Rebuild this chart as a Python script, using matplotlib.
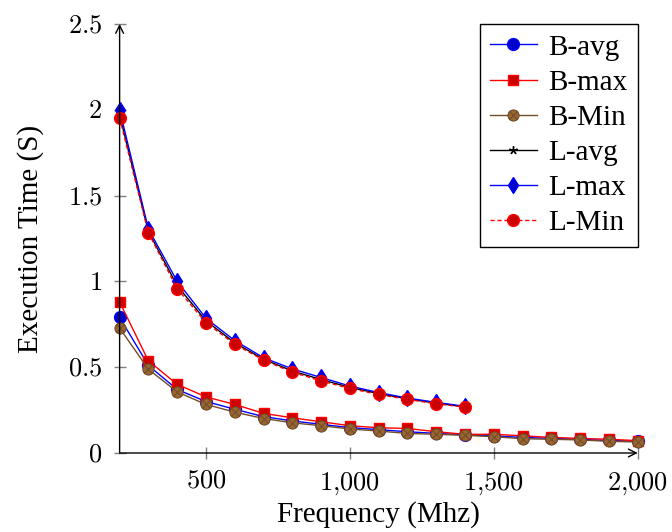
import matplotlib
matplotlib.use('Agg')
import matplotlib.pyplot as plt
from matplotlib.path import Path
from matplotlib.ticker import FixedLocator, FixedFormatter

plt.rcParams['font.family'] = 'Liberation Serif'
plt.rcParams['mathtext.fontset'] = 'cm'

# frequencies (Mhz)
freq_b = [200, 300, 400, 500, 600, 700, 800, 900, 1000, 1100,
          1200, 1300, 1400, 1500, 1600, 1700, 1800, 1900, 2000]
freq_l = [200, 300, 400, 500, 600, 700, 800, 900, 1000, 1100,
          1200, 1300, 1400]

# execution times (S)
b_avg = [0.79, 0.51, 0.37, 0.30, 0.255, 0.212, 0.187, 0.167, 0.148, 0.136,
         0.124, 0.114, 0.106, 0.099, 0.091, 0.085, 0.079, 0.073, 0.068]
b_max = [0.88, 0.537, 0.40, 0.327, 0.283, 0.231, 0.205, 0.182, 0.159, 0.147,
         0.143, 0.124, 0.109, 0.109, 0.10, 0.091, 0.085, 0.08, 0.072]
b_min = [0.728, 0.488, 0.356, 0.283, 0.238, 0.201, 0.176, 0.159, 0.14, 0.128,
         0.114, 0.109, 0.103, 0.095, 0.083, 0.08, 0.076, 0.068, 0.064]
l_avg = [1.97, 1.29, 0.975, 0.77, 0.642, 0.546, 0.478, 0.428, 0.382, 0.346,
         0.316, 0.29, 0.269]
l_max = [2.0, 1.305, 1.0, 0.785, 0.655, 0.555, 0.49, 0.44, 0.39, 0.352,
         0.32, 0.295, 0.272]
l_min = [1.953, 1.283, 0.957, 0.76, 0.634, 0.541, 0.471, 0.42, 0.376, 0.341,
         0.312, 0.287, 0.267]

x_ticks = [500, 1000, 1500, 2000]
x_ticklabels = ['500', '1,000', '1,500', '2,000']
y_ticks = [0, 0.5, 1, 1.5, 2, 2.5]
y_ticklabels = ['0', '0.5', '1', '1.5', '2', '2.5']

# circle with a cross inside (like pgf's otimes*)
c = 0.7071
otimes = Path.make_compound_path(
    Path.unit_circle(),
    Path([(-c, -c), (c, c)], [Path.MOVETO, Path.LINETO]),
    Path([(-c, c), (c, -c)], [Path.MOVETO, Path.LINETO]),
)

blue = (0, 0, 1)
red = (1, 0, 0)
brown = (0.45, 0.3, 0.15)

fig = plt.figure(figsize=(6.72, 5.32), dpi=100)
ax = fig.add_axes([0.178, 0.1485, 0.771, 0.8065])

lw = 1.0
ax.plot(freq_b, b_avg, color=blue, lw=lw, marker='o', ms=8.5,
        mfc=(0, 0, 0.8), mec=blue, label='B-avg', clip_on=False)
ax.plot(freq_b, b_max, color=red, lw=lw, marker='s', ms=7.5,
        mfc=(0.8, 0, 0), mec=red, label='B-max', clip_on=False)
ax.plot(freq_b, b_min, color=brown, lw=lw, marker=otimes, ms=8,
        mfc=(0.6, 0.4, 0.2), mec=brown, mew=0.8, label='B-Min', clip_on=False)
ax.plot(freq_l, l_avg, color='black', lw=lw, marker=(5, 2, 0), ms=6,
        mec='black', label='L-avg', clip_on=False)
ax.plot(freq_l, l_max, color=blue, lw=lw, marker='d', ms=8,
        mfc=(0, 0, 0.8), mec=blue, label='L-max', clip_on=False)
ax.plot(freq_l, l_min, color=red, lw=lw, ls=(0, (3, 2)), marker='o', ms=8.5,
        mfc=(0.8, 0, 0), mec=red, label='L-Min', clip_on=False)

ax.set_xlim(200, 2000)
ax.set_ylim(0, 2.5)

for side in ['top', 'right', 'left', 'bottom']:
    ax.spines[side].set_visible(False)

# axis lines with arrow heads
arrow = dict(arrowstyle='->', color='black', lw=1.0, shrinkA=0, shrinkB=0,
             mutation_scale=14)
ax.annotate('', xy=(1, 0), xytext=(0, 0), xycoords='axes fraction',
            arrowprops=arrow, annotation_clip=False)
ax.annotate('', xy=(0, 1), xytext=(0, 0), xycoords='axes fraction',
            arrowprops=arrow, annotation_clip=False)

ax.xaxis.set_major_locator(FixedLocator(x_ticks))
ax.xaxis.set_major_formatter(FixedFormatter(['$' + t.replace(',', '{,}') + '$' for t in x_ticklabels]))
ax.yaxis.set_major_locator(FixedLocator(y_ticks))
ax.yaxis.set_major_formatter(FixedFormatter(['$' + t + '$' for t in y_ticklabels]))
ax.tick_params(direction='inout', length=9, width=1, color='0.5',
               labelsize=19, pad=8)

ax.set_xlabel('Frequency (Mhz)', fontsize=21, labelpad=3)
ax.set_ylabel('Execution Time (S)', fontsize=21, labelpad=17)

leg = ax.legend(loc='upper right', fontsize=21, frameon=True, fancybox=False,
                edgecolor='black', framealpha=1, borderaxespad=0,
                handlelength=1.6, handletextpad=0.4, labelspacing=0.3,
                borderpad=0.35)
leg.get_frame().set_linewidth(1.0)

fig.savefig('out.png', dpi=100)
